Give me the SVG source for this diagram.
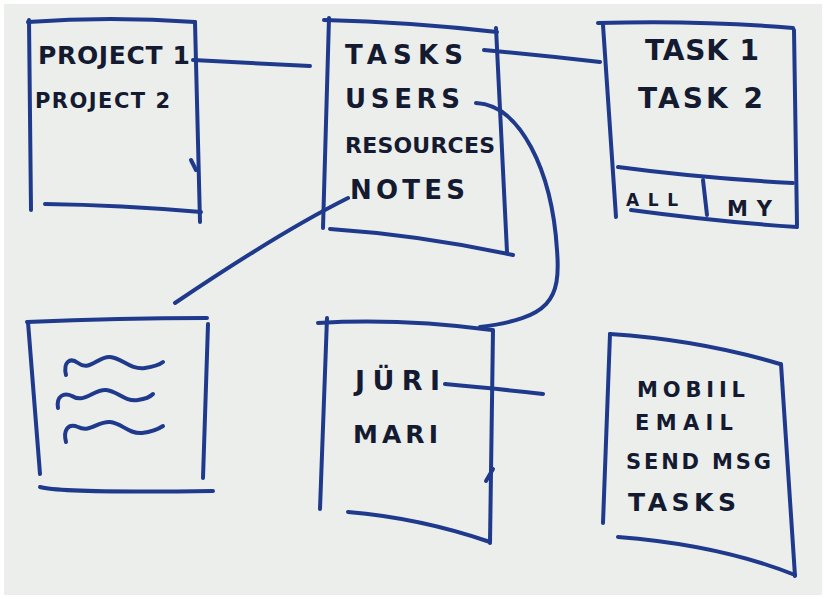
<svg xmlns="http://www.w3.org/2000/svg" width="826" height="599" viewBox="0 0 826 599">
  <style>
    .pen { fill: none; stroke: #1f3a8c; stroke-width: 4; stroke-linecap: round; stroke-linejoin: round; }
    .ink { font-family: "DejaVu Sans", "Liberation Sans", sans-serif; font-weight: bold; fill: #141a30; }
  </style>
  <rect x="0" y="0" width="826" height="599" fill="#ffffff"/>
  <rect x="4" y="4" width="818" height="591" fill="#eceeeb"/>

  <!-- projects list -->
  <g id="projects">
    <path class="pen" d="M28,22 Q110,16 195,22"/>
    <path class="pen" d="M29,20 L31,210"/>
    <path class="pen" d="M195,22 L200,222"/>
    <path class="pen" d="M191,160 L196,170"/>
    <path class="pen" d="M45,204 Q120,205 201,212"/>
    <text class="ink" x="38" y="64" font-size="25" textLength="152" lengthAdjust="spacing">PROJECT 1</text>
    <text class="ink" x="35" y="108" font-size="21" textLength="135" lengthAdjust="spacing">PROJECT 2</text>
  </g>

  <!-- project menu -->
  <g id="menu">
    <path class="pen" d="M324,20 Q410,22 497,32"/>
    <path class="pen" d="M329,18 L323,228"/>
    <path class="pen" d="M496,28 L507,252"/>
    <path class="pen" d="M330,229 Q420,235 513,255"/>
    <text class="ink" x="345" y="64" font-size="26" textLength="118" lengthAdjust="spacing">TASKS</text>
    <text class="ink" x="345" y="108" font-size="26" textLength="115" lengthAdjust="spacing">USERS</text>
    <text class="ink" x="345" y="153" font-size="22" textLength="150" lengthAdjust="spacing">RESOURCES</text>
    <text class="ink" x="350" y="199" font-size="26" textLength="115" lengthAdjust="spacing">NOTES</text>
  </g>

  <!-- task list with filter tabs -->
  <g id="tasks">
    <path class="pen" d="M598,23 Q700,20 793,28"/>
    <path class="pen" d="M603,25 L616,217"/>
    <path class="pen" d="M794,30 L797,225"/>
    <path class="pen" d="M618,167 Q700,178 793,183"/>
    <path class="pen" d="M631,210 Q720,222 797,227"/>
    <path class="pen" d="M703,180 L707,215"/>
    <text class="ink" x="645" y="60" font-size="28" textLength="114" lengthAdjust="spacing">TASK 1</text>
    <text class="ink" x="638" y="108" font-size="28" textLength="125" lengthAdjust="spacing">TASK 2</text>
    <text class="ink" x="626" y="206" font-size="17" textLength="52" lengthAdjust="spacing">ALL</text>
    <text class="ink" x="727" y="216" font-size="21" textLength="45" lengthAdjust="spacing">MY</text>
  </g>

  <!-- notes page -->
  <g id="notes">
    <path class="pen" d="M27,322 Q120,318 207,318"/>
    <path class="pen" d="M28,322 L40,474"/>
    <path class="pen" d="M208,324 L203,478"/>
    <path class="pen" d="M40,487 Q60,493 213,491"/>
    <path class="pen" d="M66,375 C63,362 70,357 78,363 C90,372 98,356 110,357 C122,358 130,370 145,368 C152,367 158,366 163,362"/>
    <path class="pen" d="M58,408 C56,396 64,392 72,396 C84,404 94,389 106,390 C118,391 124,402 138,400 C145,399 150,397 153,394"/>
    <path class="pen" d="M66,442 C63,430 68,423 78,427 C90,433 98,421 110,422 C122,423 128,434 142,433 C150,432 157,430 163,426"/>
  </g>

  <!-- user list -->
  <g id="users">
    <path class="pen" d="M318,323 Q400,318 492,330"/>
    <path class="pen" d="M327,318 L320,509"/>
    <path class="pen" d="M493,330 L490,543"/>
    <path class="pen" d="M486,481 L493,469"/>
    <path class="pen" d="M348,512 Q420,518 490,542"/>
    <text class="ink" x="355" y="390" font-size="27" textLength="85" lengthAdjust="spacing">JÜRI</text>
    <text class="ink" x="353" y="443" font-size="25" textLength="85" lengthAdjust="spacing">MARI</text>
  </g>

  <!-- user details -->
  <g id="user-detail">
    <path class="pen" d="M610,334 Q700,340 780,364"/>
    <path class="pen" d="M610,334 L603,523"/>
    <path class="pen" d="M781,364 L795,576"/>
    <path class="pen" d="M618,537 Q720,545 795,575"/>
    <text class="ink" x="637" y="397" font-size="21" textLength="108" lengthAdjust="spacing">MOBIIL</text>
    <text class="ink" x="635" y="430" font-size="21" textLength="98" lengthAdjust="spacing">EMAIL</text>
    <text class="ink" x="626" y="469" font-size="21" textLength="145" lengthAdjust="spacing">SEND MSG</text>
    <text class="ink" x="628" y="511" font-size="25" textLength="108" lengthAdjust="spacing">TASKS</text>
  </g>

  <!-- links between screens -->
  <g id="connectors">
    <path class="pen" d="M193,60 L310,66"/>
    <path class="pen" d="M484,50 Q540,55 600,62"/>
    <path class="pen" d="M476,103 C520,105 552,170 557,250 C561,300 550,318 480,327"/>
    <path class="pen" d="M348,198 Q280,232 175,303"/>
    <path class="pen" d="M445,384 Q490,388 543,394"/>
  </g>
</svg>
